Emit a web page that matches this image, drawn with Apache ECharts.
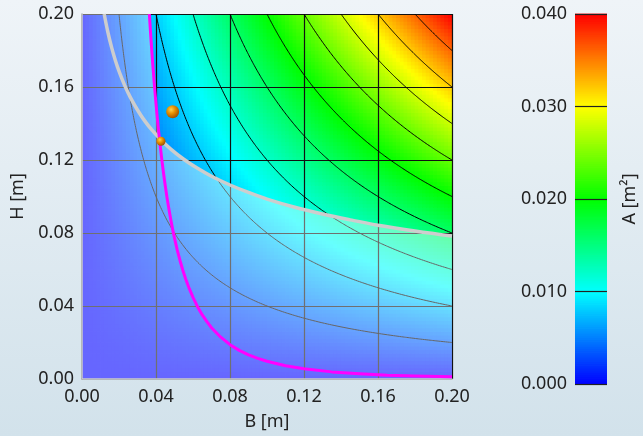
<!DOCTYPE html>
<html><head><meta charset="utf-8">
<script src="https://cdn.jsdelivr.net/npm/echarts@6/dist/echarts.min.js"></script>
<style>html,body{margin:0;padding:0;}#c{width:643px;height:436px;background:linear-gradient(to bottom,#eff4f8,#d2e2eb);}</style>
</head><body><div id="c"></div><script>
// ---- data ----
const axisRange = [0, 0.2];
const axisInterval = 0.04;
const colorTicks = [0, 0.01, 0.02, 0.03, 0.04];
const colorRamp = ['#0000ff', '#00ffff', '#00ff00', '#ffff00', '#ff0000'];
const contourLevels = [0.004, 0.008, 0.012, 0.016, 0.020, 0.024, 0.028, 0.032, 0.036];
// grey limit curve B, H
const limitB = [0.012,0.014,0.016,0.018,0.020,0.023,0.026,0.030,0.034,0.038,0.043,0.048,0.055,0.062,0.070,0.080,0.090,0.100,0.115,0.130,0.145,0.160,0.180,0.200];
const limitH = [0.2000,0.1900,0.1817,0.1747,0.1687,0.1610,0.1546,0.1474,0.1413,0.1362,0.1307,0.1260,0.1204,0.1157,0.1111,0.1063,0.1022,0.0986,0.0941,0.0904,0.0872,0.0843,0.0811,0.0783];
// magenta curve
const magB = [0.0364,0.0370,0.0375,0.0382,0.039,0.0397,0.0405,0.0412,0.042,0.043,0.044,0.045,0.046,0.047,0.048,0.049,0.050,0.0515,0.053,0.0545,0.056,0.058,0.060,0.0625,0.065,0.0675,0.070,0.075,0.080,0.085,0.090,0.095,0.100,0.110,0.120,0.135,0.150,0.165,0.180,0.200];
const magH = [0.2000,0.1905,0.1830,0.1731,0.1627,0.1543,0.1453,0.1380,0.1302,0.1214,0.1133,0.1059,0.0991,0.0930,0.0873,0.0820,0.0772,0.0706,0.0648,0.0596,0.0549,0.0495,0.0447,0.0395,0.0351,0.0314,0.0281,0.0229,0.0188,0.0157,0.0132,0.0113,0.0097,0.0073,0.0056,0.0039,0.0029,0.0021,0.0017,0.0012];
// where the two curves cross
const crossPoint = [0.0418, 0.1320];
// design points
const pointB = [0.049, 0.0427];
const pointH = [0.1465, 0.1303];
const pointSize = [13, 9];

// ---- build ----
const FONT = 'Noto Sans';
const STEP = 0.002;
const field = [];
for (let i = 0; i < 100; i++) {
  for (let j = 0; j < 100; j++) {
    const b = (i + 0.5) * STEP, h = (j + 0.5) * STEP;
    field.push([b, h, b * h]);
  }
}
const CSTEP = 0.0002;
const barData = [];
for (let k = 0; k < 200; k++) { const v = (k + 0.5) * CSTEP; barData.push([0.5, v, v]); }

const contourSeries = contourLevels.map(L => {
  const pts = [];
  const b0 = L / 0.2;
  for (let k = 0; k <= 60; k++) {
    const b = b0 * Math.pow(0.2 / b0, k / 60);
    pts.push([b, L / b]);
  }
  return {type:'line', data:pts, symbol:'none', smooth:true, silent:true, z:3,
          lineStyle:{color:'#000', width:1}, animation:false};
});
const limitPts = limitB.map((b, i) => [b, limitH[i]]);
const magPts = magB.map((b, i) => [b, magH[i]]);
// boundary of the infeasible (faded) region: left of magenta, below grey
const fadeEdge = [[0, 0.2]]
  .concat(magPts.filter(p => p[0] < crossPoint[0]))
  .concat([crossPoint])
  .concat(limitPts.filter(p => p[0] > crossPoint[0]));

const ball = {type:'radial', x:0.38, y:0.35, r:0.7, colorStops:[
  {offset:0, color:'#ffd24a'}, {offset:0.45, color:'#e58e00'}, {offset:1, color:'#9a4c00'}]};

const chart = echarts.init(document.getElementById('c'));
chart.setOption({
  animation: false,
  textStyle: {fontFamily: FONT},
  grid: [
    {left: 82, top: 14, width: 370, height: 370},
    {left: 575, top: 14, width: 32, height: 370}
  ],
  xAxis: [
    {gridIndex:0, type:'value', min:axisRange[0], max:axisRange[1], interval:axisInterval, z:2,
     name:'B [m]', nameLocation:'middle', nameGap:34,
     nameTextStyle:{fontSize:18, color:'#222', fontFamily:FONT},
     axisLabel:{formatter:v=>v.toFixed(2), fontSize:18, color:'#222', margin:9, fontFamily:FONT},
     axisTick:{show:false}, axisLine:{show:true, lineStyle:{color:'#a9a9a9', width:1.5}},
     splitLine:{show:true, showMinLine:false, lineStyle:{color:'#111', width:1.2}}},
    {gridIndex:1, type:'value', min:0, max:1, show:false}
  ],
  yAxis: [
    {gridIndex:0, type:'value', min:axisRange[0], max:axisRange[1], interval:axisInterval, z:2,
     name:'H [m]', nameLocation:'middle', nameGap:55,
     nameTextStyle:{fontSize:18, color:'#222', fontFamily:FONT},
     axisLabel:{formatter:v=>v.toFixed(2), fontSize:18, color:'#222', margin:8, fontFamily:FONT},
     axisTick:{show:false}, axisLine:{show:true, lineStyle:{color:'#a9a9a9', width:1.5}},
     splitLine:{show:true, showMinLine:false, lineStyle:{color:'#111', width:1.2}}},
    {gridIndex:1, type:'value', min:colorTicks[0], max:colorTicks[colorTicks.length-1], interval:0.01, z:2, position:'left',
     axisLabel:{formatter:v=>v.toFixed(3), fontSize:18, color:'#222', margin:8, fontFamily:FONT},
     axisTick:{show:false}, axisLine:{show:false},
     splitLine:{show:true, lineStyle:{color:'#222', width:1.2}}},
    {gridIndex:1, type:'value', min:0, max:0.04, position:'right',
     name:'A [m²]', nameLocation:'middle', nameGap:14,
     nameTextStyle:{fontSize:18, color:'#222', fontFamily:FONT},
     axisLabel:{show:false}, axisTick:{show:false}, axisLine:{show:false}, splitLine:{show:false}}
  ],
  visualMap: {type:'continuous', show:false, min:0, max:0.04, dimension:2, seriesIndex:[0,1],
              inRange:{color:colorRamp}},
  series: [
    {type:'custom', xAxisIndex:0, yAxisIndex:0, data:field, encode:{x:0, y:1}, silent:true, z:1,
     progressive:0, clip:true,
     renderItem:(params, api) => {
       const b = api.value(0), h = api.value(1);
       const p0 = api.coord([b - STEP/2, h + STEP/2]);
       const p1 = api.coord([b + STEP/2, h - STEP/2]);
       return {type:'rect', shape:{x:p0[0]-0.4, y:p0[1]-0.4, width:p1[0]-p0[0]+0.8, height:p1[1]-p0[1]+0.8},
               style:{fill:api.visual('color')}};
     }},
    {type:'custom', xAxisIndex:1, yAxisIndex:1, data:barData, encode:{x:0, y:1}, silent:true, z:1,
     progressive:0,
     renderItem:(params, api) => {
       const v = api.value(1);
       const p0 = api.coord([0, v + CSTEP/2]);
       const p1 = api.coord([1, v - CSTEP/2]);
       return {type:'rect', shape:{x:p0[0], y:p0[1]-0.4, width:p1[0]-p0[0], height:p1[1]-p0[1]+0.8},
               style:{fill:api.visual('color')}};
     }},
    ...contourSeries,
    {type:'line', data:fadeEdge, symbol:'none', silent:true, z:4, smooth:false,
     lineStyle:{width:0, opacity:0}, areaStyle:{color:'rgba(255,255,255,0.4)', opacity:1}},
    {type:'line', data:limitPts, symbol:'none', silent:true, z:5, smooth:0.4,
     lineStyle:{color:'#cdcdcd', width:3.5}},
    {type:'line', data:magPts, symbol:'none', silent:true, z:5, smooth:false,
     lineStyle:{color:'#ff00ff', width:3, join:'round'}},
    {type:'scatter', data:pointB.map((b,i)=>({value:[b, pointH[i]], symbolSize:pointSize[i]})),
     silent:true, z:6, itemStyle:{color:ball, opacity:1}}
  ]
});
</script></body></html>
